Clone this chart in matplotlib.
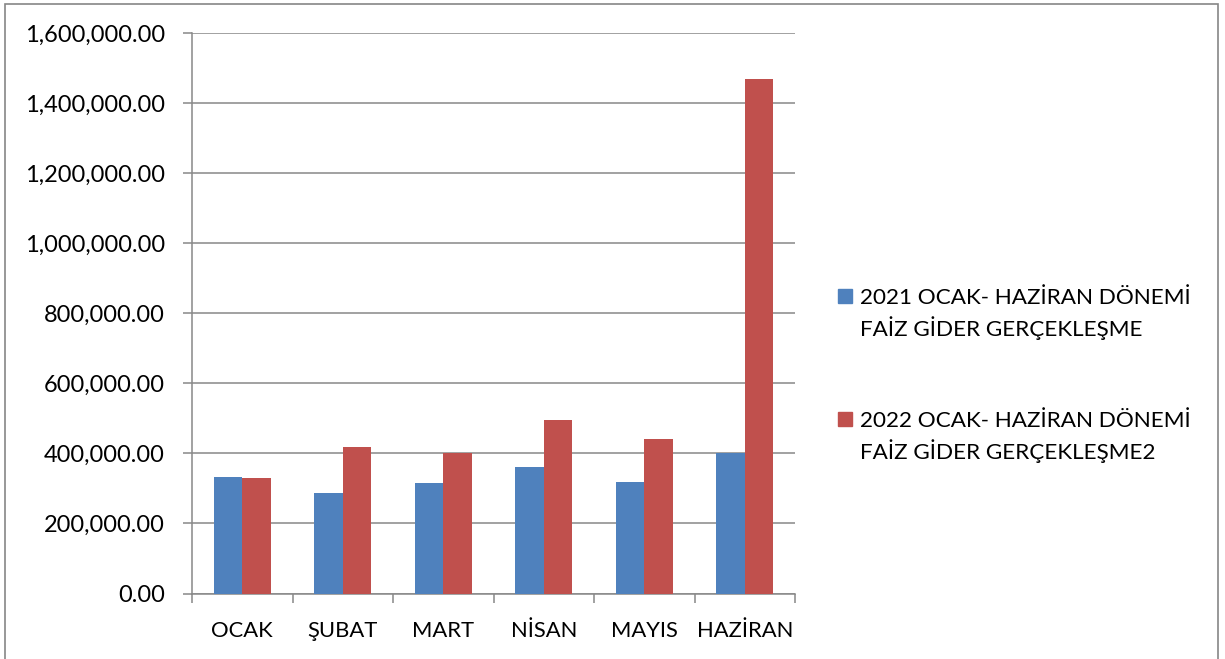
import matplotlib.pyplot as plt
from matplotlib.patches import Rectangle
from matplotlib.ticker import FuncFormatter
import numpy as np

plt.rcParams['font.family'] = ['Lato', 'DejaVu Sans']

months = ['OCAK', 'ŞUBAT', 'MART', 'NİSAN', 'MAYIS', 'HAZİRAN']
faiz_2021 = [332000, 286000, 316000, 361000, 319000, 402000]
faiz_2022 = [331000, 417000, 402000, 495000, 442000, 1469000]
series_names = [['2021 OCAK- HAZİRAN DÖNEMİ', 'FAİZ GİDER GERÇEKLEŞME'],
                ['2022 OCAK- HAZİRAN DÖNEMİ', 'FAİZ GİDER GERÇEKLEŞME2']]
colors = ['#4F81BD', '#C0504D']
grid_color = '#888888'

W, H = 1225, 659
fig = plt.figure(figsize=(W / 100, H / 100), dpi=100)
ax = fig.add_axes([192 / W, 1 - 593.5 / H, (795 - 192) / W, (593.5 - 33) / H])

x = np.arange(len(months))
w = 0.286
ax.bar(x - w / 2, faiz_2021, width=w, color=colors[0], zorder=3)
ax.bar(x + w / 2, faiz_2022, width=w, color=colors[1], zorder=3)

ax.set_xlim(-0.5, len(months) - 0.5)
ax.set_ylim(0, 1600000)
ax.set_yticks(np.arange(0, 1600001, 200000))
ax.yaxis.set_major_formatter(FuncFormatter(lambda v, p: f'{v:,.2f}'))
ax.set_xticks(np.arange(-0.5, len(months), 1))
ax.set_xticklabels([])
ax.set_xticks(x, minor=True)
ax.set_xticklabels(months, minor=True)

ax.grid(axis='y', color=grid_color, linewidth=1.1, zorder=0)
for s in ['top', 'right']:
    ax.spines[s].set_visible(False)
for s in ['left', 'bottom']:
    ax.spines[s].set_color(grid_color)
    ax.spines[s].set_linewidth(1.1)

ax.tick_params(axis='y', which='major', length=6.5, width=1.1, color=grid_color,
               pad=13, labelsize=17, labelcolor='black')
ax.tick_params(axis='x', which='major', length=6.5, width=1.1, color=grid_color)
ax.tick_params(axis='x', which='minor', length=0, pad=20, labelsize=15.8, labelcolor='black')

# legend drawn by hand so the square sits on the first line
leg_base = [304, 427]
for i, lines in enumerate(series_names):
    b = leg_base[i]
    fig.patches.append(Rectangle((838 / W, 1 - (b - 1) / H), 14 / W, 14 / H,
                                 transform=fig.transFigure, color=colors[i]))
    for k, line in enumerate(lines):
        fig.text(860 / W, 1 - (b + 32 * k) / H, line, fontsize=16.2,
                 va='baseline', ha='left')

# outer frame
fig.patches.append(Rectangle((5 / W, -0.05), (1218 - 5) / W, 1.05 - 4 / H,
                             transform=fig.transFigure, fill=False,
                             edgecolor='#868686', linewidth=1.2))

fig.savefig('out.png', dpi=100)
